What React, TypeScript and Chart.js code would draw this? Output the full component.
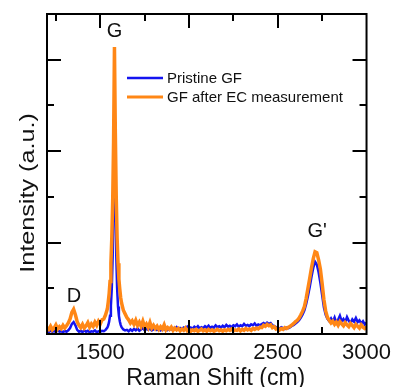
import React, { useEffect, useRef } from 'react';
import { Chart, registerables } from 'chart.js';

Chart.register(...registerables);

// Raman shift grid (cm^-1)
const ramanShift = [
  1200, 1210, 1220, 1230, 1240, 1250, 1260, 1270, 1280, 1290,
  1300, 1310, 1320, 1330, 1340, 1350, 1360, 1370, 1380, 1390,
  1400, 1410, 1420, 1430, 1440, 1450, 1460, 1470, 1480, 1490,
  1500, 1510, 1520, 1530, 1540,
  1545, 1550, 1555, 1560, 1565, 1570, 1575, 1580, 1585, 1590,
  1595, 1600, 1605, 1610, 1615,
  1620, 1630, 1640, 1650, 1660, 1670, 1680, 1690,
  1700, 1710, 1720, 1730, 1740, 1750, 1760, 1770, 1780, 1790,
  1800, 1810, 1820, 1830, 1840, 1850, 1860, 1870, 1880, 1890,
  1900, 1910, 1920, 1930, 1940, 1950, 1960, 1970, 1980, 1990,
  2000, 2010, 2020, 2030, 2040, 2050, 2060, 2070, 2080, 2090,
  2100, 2110, 2120, 2130, 2140, 2150, 2160, 2170, 2180, 2190,
  2200, 2210, 2220, 2230, 2240, 2250, 2260, 2270, 2280, 2290,
  2300, 2310, 2320, 2330, 2340, 2350, 2360, 2370, 2380, 2390,
  2400, 2410, 2420, 2430, 2440, 2450, 2460, 2470, 2480, 2490,
  2500, 2510, 2520, 2530, 2540, 2550, 2560, 2570, 2580, 2590,
  2600, 2610, 2620, 2630, 2640, 2650, 2660, 2670, 2680, 2690,
  2700, 2710, 2720, 2730, 2740, 2750, 2760, 2770, 2780, 2790,
  2800, 2810, 2820, 2830, 2840, 2850, 2860, 2870, 2880, 2890,
  2900, 2910, 2920, 2930, 2940, 2950, 2960, 2970, 2980, 2990,
  3000,
];

// Pristine GF intensity (a.u.)
const pristineGF = [
  0.06, 0.04, 0.08, 0.05, 0.07, 0.04, 0.09, 0.05, 0.06, 0.04,
  0.07, 0.05, 0.08, 0.13, 0.22, 0.26, 0.19, 0.09, 0.05, 0.07,
  0.04, 0.08, 0.05, 0.07, 0.04, 0.06, 0.05, 0.08, 0.04, 0.06,
  0.05, 0.07, 0.06, 0.09, 0.14,
  0.19, 0.27, 0.40, 0.62, 1.00, 1.70, 2.90, 4.30, 3.10, 1.75,
  1.00, 0.60, 0.40, 0.28, 0.20,
  0.15, 0.10, 0.08, 0.09, 0.06, 0.10, 0.07, 0.11,
  0.08, 0.12, 0.07, 0.10, 0.13, 0.08, 0.11, 0.09, 0.12, 0.08,
  0.10, 0.13, 0.09, 0.11, 0.08, 0.12, 0.10, 0.14, 0.09, 0.12,
  0.10, 0.13, 0.11, 0.15, 0.10, 0.13, 0.11, 0.14, 0.12, 0.16,
  0.11, 0.14, 0.12, 0.16, 0.13, 0.17, 0.12, 0.15, 0.13, 0.17,
  0.14, 0.18, 0.13, 0.16, 0.14, 0.19, 0.15, 0.17, 0.14, 0.18,
  0.15, 0.20, 0.16, 0.18, 0.15, 0.19, 0.17, 0.21, 0.16, 0.19,
  0.17, 0.22, 0.18, 0.20, 0.17, 0.21, 0.19, 0.23, 0.18, 0.21,
  0.19, 0.22, 0.24, 0.21, 0.25, 0.22, 0.24, 0.19, 0.17, 0.15,
  0.14, 0.12, 0.15, 0.13, 0.11, 0.14, 0.13, 0.15, 0.18, 0.20,
  0.23, 0.26, 0.30, 0.36, 0.43, 0.52, 0.66, 0.83, 1.03, 1.25,
  1.45, 1.58, 1.52, 1.35, 1.12, 0.85, 0.58, 0.42, 0.33, 0.28,
  0.34, 0.27, 0.36, 0.25, 0.31, 0.40, 0.28, 0.33, 0.26, 0.37,
  0.29, 0.24, 0.32, 0.27, 0.35, 0.26, 0.30, 0.23, 0.28, 0.21,
  0.25,
];

// GF after EC measurement intensity (a.u.)
const afterEC = [
  0.14, 0.10, 0.17, 0.09, 0.13, 0.20, 0.11, 0.16, 0.12, 0.19,
  0.13, 0.18, 0.24, 0.33, 0.47, 0.54, 0.42, 0.27, 0.19, 0.14,
  0.21, 0.13, 0.18, 0.25, 0.15, 0.22, 0.17, 0.26, 0.19, 0.28,
  0.22, 0.31, 0.33, 0.42, 0.55,
  0.70, 0.88, 1.15, 1.55, 2.10, 2.90, 4.20, 6.28, 4.40, 3.00,
  2.10, 1.55, 1.20, 0.98, 0.80,
  0.68, 0.52, 0.44, 0.36, 0.31, 0.24, 0.29, 0.21,
  0.30, 0.19, 0.26, 0.17, 0.28, 0.16, 0.22, 0.14, 0.25, 0.13,
  0.19, 0.12, 0.17, 0.10, 0.16, 0.11, 0.20, 0.09, 0.14, 0.10,
  0.15, 0.08, 0.13, 0.09, 0.12, 0.07, 0.11, 0.08, 0.13, 0.07,
  0.10, 0.06, 0.09, 0.07, 0.10, 0.06, 0.08, 0.11, 0.07, 0.09,
  0.06, 0.10, 0.07, 0.09, 0.06, 0.08, 0.10, 0.07, 0.09, 0.06,
  0.09, 0.07, 0.10, 0.08, 0.11, 0.07, 0.09, 0.08, 0.11, 0.07,
  0.10, 0.08, 0.12, 0.09, 0.11, 0.08, 0.12, 0.10, 0.13, 0.11,
  0.15, 0.14, 0.19, 0.17, 0.21, 0.18, 0.20, 0.14, 0.16, 0.11,
  0.13, 0.09, 0.12, 0.10, 0.14, 0.12, 0.15, 0.17, 0.20, 0.23,
  0.27, 0.30, 0.35, 0.42, 0.50, 0.60, 0.78, 1.00, 1.22, 1.45,
  1.65, 1.80, 1.78, 1.62, 1.42, 1.10, 0.75, 0.50, 0.36, 0.30,
  0.24, 0.28, 0.21, 0.26, 0.19, 0.27, 0.22, 0.18, 0.25, 0.20,
  0.16, 0.23, 0.19, 0.14, 0.21, 0.17, 0.13, 0.20, 0.15, 0.12,
  0.16,
];

const seriesLabels = ['Pristine GF', 'GF after EC measurement'];
const seriesColors = ['#1414f0', '#ff8716'];

// Labelled x ticks
const xTickValues = [1500, 2000, 2500, 3000];

// Peak annotations (text, Raman shift, intensity where the label sits)
const peakText = ['D', 'G', "G'"];
const peakShift = [1352, 1580, 2722];
const peakLevel = [0.83, 6.62, 2.25];

const xTitle = 'Raman Shift (cm)';
const yTitle = 'Intensity (a.u.)';

const FONT = '"Liberation Sans", Arial, Helvetica, sans-serif';

const decorPlugin = {
  id: 'decor',
  afterDatasetsDraw(chart: any) {
    const { ctx, chartArea: a, scales } = chart;
    const x = scales.x;
    const y = scales.y;
    ctx.save();
    ctx.strokeStyle = '#000';
    ctx.lineWidth = 2;
    const seg = (x1: number, y1: number, x2: number, y2: number) => {
      ctx.beginPath();
      ctx.moveTo(x1, y1);
      ctx.lineTo(x2, y2);
      ctx.stroke();
    };
    // inward ticks on x (every 250, long at 500)
    for (let v = Math.ceil(x.min / 250) * 250; v < x.max; v += 250) {
      if (v <= x.min) continue;
      const px = Math.round(x.getPixelForValue(v));
      const len = v % 500 === 0 ? 14 : 7;
      seg(px, a.bottom, px, a.bottom - len);
      seg(px, a.top, px, a.top + len);
    }
    // inward ticks on y (every 1, long at even)
    for (let v = y.min + 1; v < y.max; v += 1) {
      const py = Math.round(y.getPixelForValue(v));
      const len = v % 2 === 0 ? 14 : 7;
      seg(a.left, py, a.left + len, py);
      seg(a.right, py, a.right - len, py);
    }
    // frame
    ctx.strokeRect(a.left, a.top, a.right - a.left, a.bottom - a.top);

    // peak labels
    ctx.fillStyle = '#111';
    ctx.font = `20px ${FONT}`;
    ctx.textAlign = 'center';
    ctx.textBaseline = 'middle';
    peakText.forEach((t, i) => {
      ctx.fillText(t, x.getPixelForValue(peakShift[i]), y.getPixelForValue(peakLevel[i]));
    });

    // legend
    const lx = a.left + 80;
    const ly = a.top + 64;
    ctx.font = `15px ${FONT}`;
    ctx.textAlign = 'left';
    seriesLabels.forEach((lab, i) => {
      const yy = ly + i * 19;
      ctx.strokeStyle = seriesColors[i];
      ctx.lineWidth = i === 1 ? 3 : 2.5;
      seg(lx, yy, lx + 36, yy);
      ctx.fillStyle = '#111';
      ctx.fillText(lab, lx + 40, yy + 1);
    });

    // axis titles
    ctx.fillStyle = '#111';
    ctx.font = `23px ${FONT}`;
    ctx.textAlign = 'center';
    ctx.textBaseline = 'alphabetic';
    ctx.fillText(xTitle, (a.left + a.right) / 2 + 9, a.bottom + 51);
    ctx.save();
    ctx.font = `21px ${FONT}`;
    ctx.translate(a.left - 20, (a.top + a.bottom) / 2 + 19);
    ctx.rotate(-Math.PI / 2);
    ctx.scale(1.2, 1);
    ctx.fillText(yTitle, 0, 7);
    ctx.restore();

    ctx.restore();
  },
};

export default function App() {
  const ref = useRef<HTMLCanvasElement>(null);
  useEffect(() => {
    document.body.style.margin = '0';
    const canvas = ref.current;
    if (!canvas) return;
    const chart = new Chart(canvas, {
      type: 'line',
      data: {
        datasets: [
          {
            label: seriesLabels[0],
            data: ramanShift.map((s, i) => ({ x: s, y: pristineGF[i] })),
            borderColor: seriesColors[0],
            borderWidth: 2.5,
            pointRadius: 0,
            tension: 0,
            order: 2,
          },
          {
            label: seriesLabels[1],
            data: ramanShift.map((s, i) => ({ x: s, y: afterEC[i] })),
            borderColor: seriesColors[1],
            borderWidth: 3.5,
            pointRadius: 0,
            tension: 0,
            order: 1,
          },
        ],
      },
      options: {
        animation: false,
        responsive: false,
        layout: { padding: { left: 47, top: 14, right: 28, bottom: 0 } },
        plugins: { legend: { display: false }, tooltip: { enabled: false } },
        scales: {
          x: {
            type: 'linear',
            min: 1200,
            max: 3000,
            grid: { display: false, drawTicks: false },
            border: { display: false },
            afterBuildTicks: (s: any) => {
              s.ticks = xTickValues.map((v) => ({ value: v }));
            },
            ticks: {
              autoSkip: false,
              maxRotation: 0,
              padding: 6,
              color: '#111',
              font: { family: FONT, size: 22 },
              callback: (v: any) => String(v),
            },
            afterFit: (s: any) => {
              s.height = 53;
            },
          },
          y: {
            display: false,
            min: 0,
            max: 7,
          },
        },
      },
      plugins: [decorPlugin],
    });
    return () => chart.destroy();
  }, []);
  return (
    <div style={{ position: 'fixed', left: 0, top: 0, width: 397, height: 387, background: '#fff' }}>
      <canvas ref={ref} width={397} height={387} style={{ display: 'block' }} />
    </div>
  );
}
